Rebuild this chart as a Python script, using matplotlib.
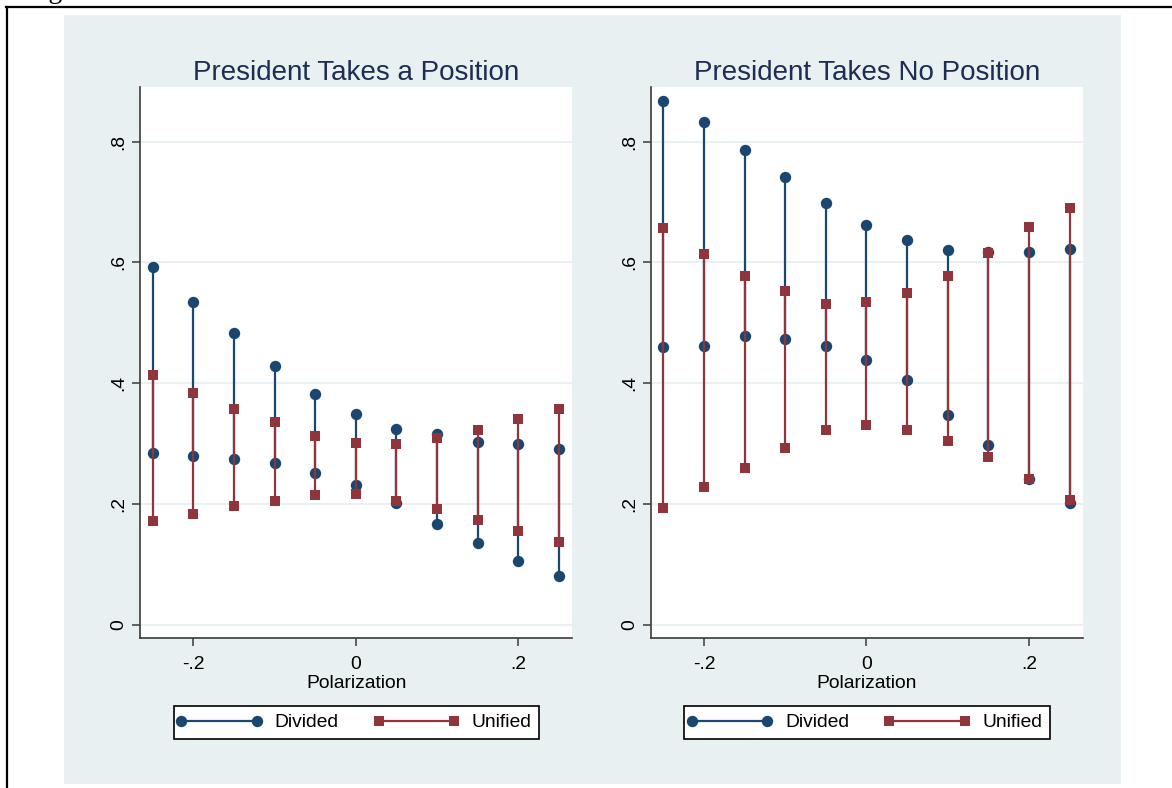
import matplotlib
matplotlib.use("Agg")
import matplotlib.pyplot as plt
from matplotlib.lines import Line2D
from matplotlib.patches import Rectangle
from matplotlib.legend_handler import HandlerLine2D

plt.rcParams['font.family'] = ['Liberation Sans', 'DejaVu Sans']

# Polarization grid shared by both panels
polarization = [-0.25, -0.2, -0.15, -0.1, -0.05, 0.0, 0.05, 0.1, 0.15, 0.2, 0.25]

# President takes a position: predicted ranges
pos_divided_low = [0.285, 0.280, 0.274, 0.268, 0.251, 0.231, 0.201, 0.167, 0.135, 0.106, 0.081]
pos_divided_high = [0.592, 0.534, 0.483, 0.429, 0.382, 0.349, 0.324, 0.315, 0.303, 0.299, 0.291]
pos_unified_low = [0.171, 0.183, 0.196, 0.205, 0.214, 0.217, 0.205, 0.191, 0.173, 0.155, 0.137]
pos_unified_high = [0.414, 0.383, 0.357, 0.335, 0.313, 0.301, 0.299, 0.309, 0.323, 0.340, 0.357]

# President takes no position: predicted ranges
nopos_divided_low = [0.460, 0.462, 0.478, 0.474, 0.462, 0.438, 0.406, 0.348, 0.298, 0.242, 0.201]
nopos_divided_high = [0.868, 0.832, 0.786, 0.742, 0.699, 0.662, 0.637, 0.621, 0.618, 0.618, 0.622]
nopos_unified_low = [0.194, 0.228, 0.259, 0.292, 0.323, 0.331, 0.323, 0.304, 0.277, 0.241, 0.207]
nopos_unified_high = [0.657, 0.614, 0.578, 0.553, 0.532, 0.534, 0.550, 0.578, 0.616, 0.659, 0.690]

panel_titles = ["President Takes a Position", "President Takes No Position"]
series_names = ["Divided", "Unified"]
yticks = [0, 0.2, 0.4, 0.6, 0.8]
ytick_labels = ["0", ".2", ".4", ".6", ".8"]
xticks = [-0.2, 0, 0.2]
xtick_labels = ["-.2", "0", ".2"]
xlabel = "Polarization"

NAVY = "#1A476F"
MAROON = "#90353B"
REGION = "#E8F0F2"
TITLE_C = "#1E2D52"
AXIS_C = "#3a3a3a"

W, H = 1172, 788
fig = plt.figure(figsize=(W / 100, H / 100), dpi=100, facecolor="white")

def fx(px):
    return px / W

def fy(py):
    return 1 - py / H

# outer frame lines and graph region background
fig.add_artist(Line2D([fx(7), fx(7)], [fy(7), fy(790)], color="black", lw=1.6))
fig.add_artist(Line2D([fx(6), fx(1175)], [fy(7), fy(7)], color="black", lw=1.6))
fig.add_artist(Rectangle((fx(64), fy(784)), fx(1121) - fx(64), fy(15) - fy(784),
                         facecolor=REGION, edgecolor="none", zorder=0))
fig.text(fx(25), fy(-2), "Figure", family="Liberation Serif", fontsize=20,
         ha="left", va="baseline", color="black")

panels = [
    (140.0, pos_divided_low, pos_divided_high, pos_unified_low, pos_unified_high),
    (650.7, nopos_divided_low, nopos_divided_high, nopos_unified_low, nopos_unified_high),
]

FS = 13.9
MS_C = 8.2
MS_S = 7.6
for i, (left_px, dlo, dhi, ulo, uhi) in enumerate(panels):
    ax = fig.add_axes([fx(left_px), fy(637.7), fx(432.3), (637.7 - 87.3) / H])
    ax.set_facecolor("white")
    ax.set_xlim(-0.2656, 0.2666)
    ax.set_ylim(-0.0217, 0.8903)

    for y in yticks:
        ax.axhline(y, color=REGION, lw=1.5, zorder=0.5)

    # divided range spikes
    ax.vlines(polarization, dlo, dhi, color=NAVY, lw=1.6, zorder=2)
    ax.plot(polarization, dlo, "o", color=NAVY, ms=MS_C, mew=0, zorder=2.1)
    ax.plot(polarization, dhi, "o", color=NAVY, ms=MS_C, mew=0, zorder=2.1)
    # unified range spikes
    ax.vlines(polarization, ulo, uhi, color=MAROON, lw=1.6, zorder=3)
    ax.plot(polarization, ulo, "s", color=MAROON, ms=MS_S, mew=0, zorder=3.1)
    ax.plot(polarization, uhi, "s", color=MAROON, ms=MS_S, mew=0, zorder=3.1)

    for s in ("top", "right"):
        ax.spines[s].set_visible(False)
    for s in ("left", "bottom"):
        ax.spines[s].set_color(AXIS_C)
        ax.spines[s].set_linewidth(1.2)

    ax.set_yticks(yticks)
    ax.set_yticklabels(ytick_labels, rotation=90, va="center")
    ax.set_xticks(xticks)
    ax.set_xticklabels(xtick_labels)
    ax.tick_params(axis="y", length=6, width=1.1, color=AXIS_C, pad=3, labelsize=FS)
    ax.tick_params(axis="x", length=5.5, width=1.1, color=AXIS_C, pad=7.5, labelsize=FS)
    ax.set_xlabel(xlabel, fontsize=FS, labelpad=1.5)
    ax.set_title(panel_titles[i], fontsize=20, color=TITLE_C, pad=5)

    handles = [
        Line2D([0], [0], color=NAVY, lw=1.6, marker="o", ms=MS_C, mew=0),
        Line2D([0], [0], color=MAROON, lw=1.6, marker="s", ms=MS_S, mew=0),
    ]
    center_x = left_px + 216.5
    leg = fig.legend(handles, series_names, loc="center",
                     bbox_to_anchor=(fx(center_x), fy(722.5)),
                     ncol=2, fontsize=FS, numpoints=2,
                     handlelength=3.9, handletextpad=0.92, columnspacing=2.09,
                     borderpad=0.4, fancybox=False, framealpha=1,
                     edgecolor="black", facecolor="white",
                     handler_map={Line2D: HandlerLine2D(marker_pad=0)})
    leg.get_frame().set_linewidth(1.2)

fig.savefig("out.png", dpi=100, facecolor="white")
